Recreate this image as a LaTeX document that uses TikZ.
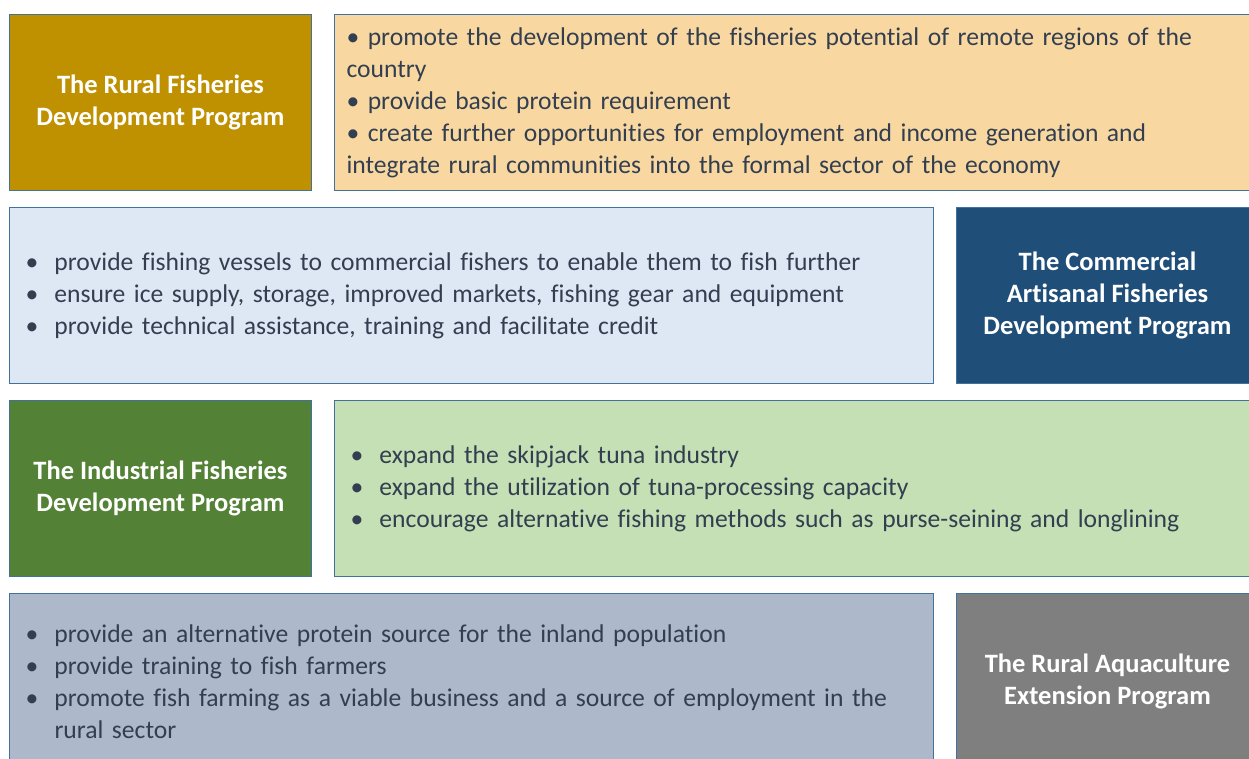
\documentclass[tikz,border=0pt]{standalone}
\usepackage{fontspec}
\setmainfont{Carlito}[Ligatures=NoCommon]
\usepackage{tikz}
\definecolor{edgeblue}{HTML}{41719C}
\definecolor{ruralgold}{HTML}{BF9000}
\definecolor{ruralfill}{HTML}{F8D8A0}
\definecolor{commblue}{HTML}{1F4E79}
\definecolor{commfill}{HTML}{DEE7F4}
\definecolor{indgreen}{HTML}{538135}
\definecolor{indfill}{HTML}{C5E0B4}
\definecolor{aquagray}{HTML}{7F7F7F}
\definecolor{aquafill}{HTML}{ADB9CA}
\definecolor{bodytext}{HTML}{333F50}
\tikzstyle{panel}=[rectangle, draw=edgeblue, line width=1pt, anchor=north west, minimum height=176pt, inner sep=0pt]
\tikzstyle{program}=[panel, minimum width=302pt, text=white, font=\fontsize{26.5}{32}\selectfont\bfseries, align=center]
\tikzstyle{goals}=[panel, text=bodytext, font=\fontsize{25.6}{32}\selectfont, align=left]
\newcommand{\goal}[1]{\makebox[29pt][l]{•}#1}

\begin{document}
\begin{tikzpicture}[x=1pt, y=-1pt]
\fill[white] (0,0) rectangle (1249,758);
\useasboundingbox (0,0) rectangle (1249,758);

\node[program, fill=ruralgold] (rural) at (9,14) {The Rural Fisheries\\Development Program};
\node[goals, fill=ruralfill, inner xsep=12pt, text width=901pt] (ruralgoals) at (334,14)
  {• promote the development of the fisheries potential of remote regions of the\\
   country\\
   • provide basic protein requirement\\
   • create further opportunities for employment and income generation and\\
   integrate rural communities into the formal sector of the economy};

\node[goals, fill=commfill, inner xsep=16pt, text width=892pt] (commgoals) at (9,207)
  {\goal{provide fishing vessels to commercial fishers to enable them to fish further}\\
   \goal{ensure ice supply, storage, improved markets, fishing gear and equipment}\\
   \goal{provide technical assistance, training and facilitate credit}};
\node[program, fill=commblue] (comm) at (956,207) {The Commercial\\Artisanal Fisheries\\Development Program};

\node[program, fill=indgreen] (ind) at (9,400) {The Industrial Fisheries\\Development Program};
\node[goals, fill=indfill, inner xsep=16pt, text width=893pt] (indgoals) at (334,400)
  {\goal{expand the skipjack tuna industry}\\
   \goal{expand the utilization of tuna-processing capacity}\\
   \goal{encourage alternative fishing methods such as purse-seining and longlining}};

\node[goals, fill=aquafill, inner xsep=16pt, text width=892pt] (aquagoals) at (9,593)
  {\goal{provide an alternative protein source for the inland population}\\
   \goal{provide training to fish farmers}\\
   \goal{promote fish farming as a viable business and a source of employment in the}\\
   \hspace*{29pt}rural sector};
\node[program, fill=aquagray] (aqua) at (956,593) {The Rural Aquaculture\\Extension Program};
\end{tikzpicture}
\end{document}
